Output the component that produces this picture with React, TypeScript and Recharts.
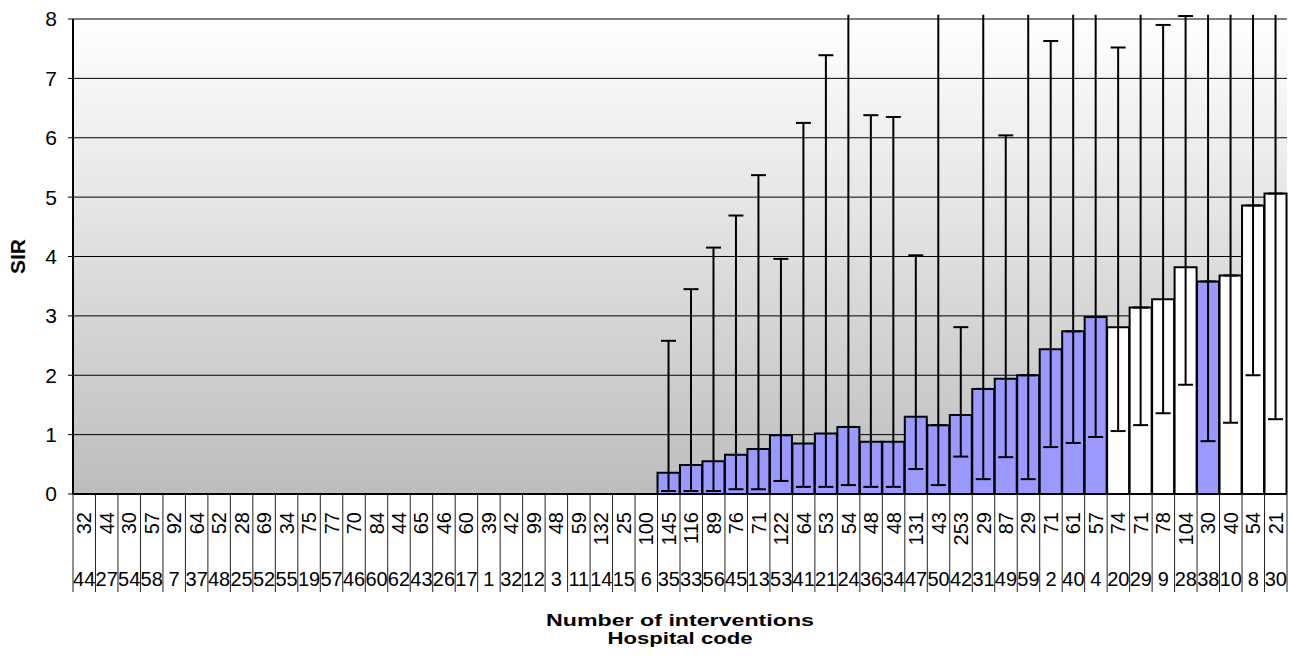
import React from 'react';
import { BarChart, Bar, XAxis, YAxis, CartesianGrid, ErrorBar, Cell } from 'recharts';

// ---- data ----
const hospitalCodes = ['44','27','54','58','7','37','48','25','52','55','19','57','46','60','62','43','26','17','1','32','12','3','11','14','15','6','35','33','56','45','13','53','41','21','24','36','34','47','50','42','31','49','59','2','40','4','20','29','9','28','38','10','8','30'];
const interventions = [32,44,30,57,92,64,52,28,69,34,75,77,70,84,44,65,46,60,39,42,99,48,59,132,25,100,145,116,89,76,71,122,64,53,54,48,48,131,43,253,29,87,29,71,61,57,74,71,78,104,30,40,54,21];
const sirValues = [0,0,0,0,0,0,0,0,0,0,0,0,0,0,0,0,0,0,0,0,0,0,0,0,0,0,
  0.36,0.49,0.55,0.66,0.76,0.99,0.85,1.02,1.13,0.88,0.88,1.30,1.16,1.33,1.77,1.94,2.00,2.44,2.74,2.98,2.81,3.14,3.28,3.82,3.58,3.68,4.86,5.06];
const ciLower: (number | null)[] = [null,null,null,null,null,null,null,null,null,null,null,null,null,null,null,null,null,null,null,null,null,null,null,null,null,null,
  0.05,0.05,0.05,0.08,0.08,0.22,0.12,0.12,0.15,0.12,0.12,0.42,0.15,0.63,0.25,0.62,0.25,0.79,0.86,0.96,1.06,1.16,1.36,1.84,0.89,1.20,2.00,1.26];
// Infinity = upper limit beyond the top of the axis (not readable)
const OFF = Infinity;
const ciUpper: (number | null)[] = [null,null,null,null,null,null,null,null,null,null,null,null,null,null,null,null,null,null,null,null,null,null,null,null,null,null,
  2.58,3.45,4.15,4.69,5.37,3.96,6.25,7.39,OFF,6.38,6.35,4.02,OFF,2.81,OFF,6.04,OFF,7.63,OFF,OFF,7.52,OFF,7.90,8.05,OFF,OFF,OFF,OFF];
const yTicks = [0,1,2,3,4,5,6,7,8];
const AXIS_REACH = 8.07; // where off-scale whiskers end

const data = hospitalCodes.map((code, i) => ({
  code,
  n: interventions[i],
  sir: sirValues[i],
  lo: ciLower[i],
  hi: ciUpper[i],
}));

const FONT = '"Liberation Sans", Arial, sans-serif';

const errCapped = (d: any) => {
  if (d.lo == null) return null;
  if (d.hi === OFF) return [d.sir - d.lo, 0];
  return [d.sir - d.lo, d.hi - d.sir];
};
const errOpen = (d: any) => (d.hi === OFF ? [0, AXIS_REACH - d.sir] : null);

const XTick = (props: any) => {
  const { x, y, payload } = props;
  const idx = payload.index;
  const half = payload.offset ?? 11.24;
  const left = x - half;
  const isLast = idx === data.length - 1;
  return (
    <g>
      <line x1={left} y1={y} x2={left} y2={y + 98} stroke="#222" strokeWidth={1} />
      {isLast && <line x1={x + half} y1={y} x2={x + half} y2={y + 98} stroke="#222" strokeWidth={1} />}
      <text
        transform={`translate(${x + 7}, ${y + 18}) rotate(-90)`}
        textAnchor="end"
        fontSize={20}
        fontFamily={FONT}
        fill="#000"
      >
        {data[idx] ? data[idx].n : ''}
      </text>
      <text x={x} y={y + 92} textAnchor="middle" fontSize={20} fontFamily={FONT} fill="#000">
        {payload.value}
      </text>
    </g>
  );
};

const xTitle = (props: any) => {
  const vb = props.viewBox ?? { x: 73, y: 494, width: 1214, height: 168 };
  const cx = vb.x + vb.width / 2;
  return (
    <g>
      <text x={cx} y={vb.y + 132} textAnchor="middle" fontSize={16} fontWeight="bold" fontFamily={FONT}
        textLength={268} lengthAdjust="spacingAndGlyphs" fill="#000">Number of interventions</text>
      <text x={cx} y={vb.y + 150} textAnchor="middle" fontSize={16} fontWeight="bold" fontFamily={FONT}
        textLength={145} lengthAdjust="spacingAndGlyphs" fill="#000">Hospital code</text>
    </g>
  );
};

const yTitle = (props: any) => {
  const vb = props.viewBox ?? { x: 0, y: 19, width: 73, height: 475 };
  return (
    <text transform={`translate(${vb.x + 25}, ${vb.y + vb.height / 2}) rotate(-90)`} textAnchor="middle"
      fontSize={21} fontWeight="bold" fontFamily={FONT} fill="#000">SIR</text>
  );
};

export default function App() {
  return (
    <div style={{ position: 'absolute', left: 0, top: 0, width: 1295, height: 662, background: '#fff' }}>
      <BarChart width={1295} height={662} data={data} margin={{ top: 19, right: 8, left: 0, bottom: 0 }}
        barCategoryGap={0} barGap={0}>
        <defs>
          <linearGradient id="plotBg" x1="0" y1="0" x2="0" y2="1">
            <stop offset="0%" stopColor="#FFFFFF" />
            <stop offset="100%" stopColor="#BDBDBD" />
          </linearGradient>
        </defs>
        <CartesianGrid vertical={false} stroke="#000" strokeWidth={1} fill="url(#plotBg)" fillOpacity={1} />
        <XAxis dataKey="code" interval={0} tickSize={0} tickMargin={0} tickLine={false} height={168}
          axisLine={{ stroke: '#000', strokeWidth: 2 }} tick={<XTick />} label={xTitle} />
        <XAxis xAxisId="top" dataKey="code" orientation="top" height={0} tick={false} tickLine={false}
          axisLine={{ stroke: '#999', strokeWidth: 2 }} />
        <YAxis domain={[0, 8]} ticks={yTicks} allowDataOverflow width={73} tickSize={5} tickMargin={11}
          axisLine={{ stroke: '#000', strokeWidth: 2 }} tickLine={{ stroke: '#000' }}
          tick={{ fontSize: 21, fill: '#000', fontFamily: FONT }} label={yTitle} />
        <YAxis yAxisId="r" orientation="right" domain={[0, 8]} width={0} tick={false} tickLine={false}
          axisLine={{ stroke: '#999', strokeWidth: 2 }} />
        <Bar dataKey="sir" stroke="#000" strokeWidth={2} isAnimationActive={false}>
          {data.map((d, i) => (
            <Cell key={i} fill={d.lo != null && d.lo > 1 ? '#FFFFFF' : '#9999FF'} />
          ))}
          <ErrorBar dataKey={errCapped} width={7.5} stroke="#000" strokeWidth={2} direction="y" isAnimationActive={false} />
          <ErrorBar dataKey={errOpen} width={0} stroke="#000" strokeWidth={2} direction="y" isAnimationActive={false} />
        </Bar>
      </BarChart>
    </div>
  );
}
